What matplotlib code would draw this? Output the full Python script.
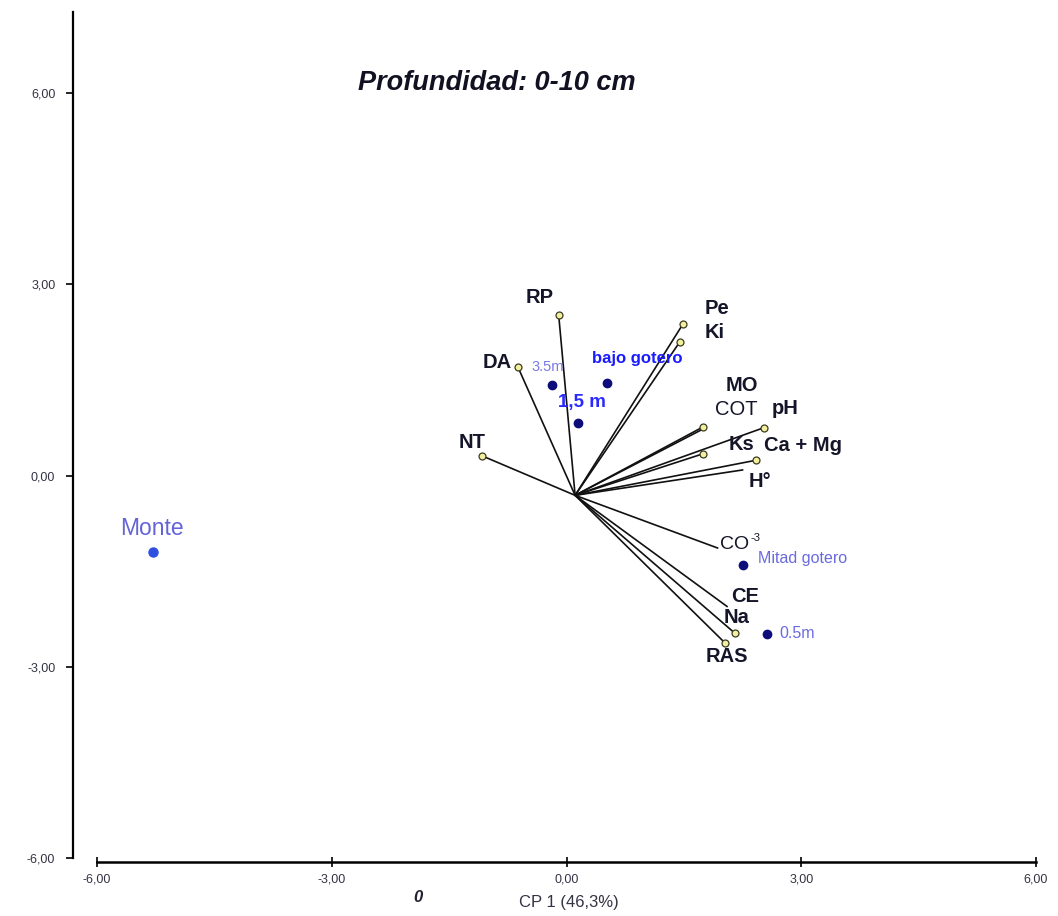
import matplotlib
matplotlib.use("Agg")
import matplotlib.pyplot as plt

plt.rcParams['font.family'] = ['Liberation Sans', 'DejaVu Sans']

# ---- data ----
origin = (0.11, -0.31)
var_names = ['RP', 'DA', 'NT', 'Pe', 'Ki', 'MO', 'COT', 'pH', 'Ks', 'Ca + Mg',
             'H°', 'CO-3', 'CE', 'Na', 'RAS']
var_x = [-0.10, -0.62, -1.08, 1.49, 1.45, 1.76, 1.74, 2.52, 1.74, 2.42,
         2.26, 1.94, 2.06, 2.15, 2.03]
var_y = [2.52, 1.70, 0.31, 2.38, 2.10, 0.74, 0.76, 0.75, 0.34, 0.24,
         0.09, -1.14, -2.06, -2.47, -2.63]
var_marker = [True, True, True, True, True, False, True, True, True, True,
              False, False, False, True, True]
var_bold = [True, True, True, True, True, True, False, True, True, True,
            True, False, True, True, True]
# label offsets in pixels (dx right, dy down)
var_dx = [-19, -21, -10, 34, 35, 38, 34, 21, 39, 47, 17, 19, 17, 2, 2]
var_dy = [-17, -5, -13, -15, -9, -43, -18, -19, -9, -15, 12, -4, -10, -16, 13]

obs_names = ['3.5m', 'bajo gotero', '1,5 m', 'Mitad gotero', '0.5m', 'Monte']
obs_x = [-0.19, 0.52, 0.15, 2.26, 2.56, -5.28]
obs_y = [1.42, 1.45, 0.82, -1.40, -2.49, -1.20]

xticks = [-6, -3, 0, 3, 6]
yticks = [-6, -3, 0, 3, 6]
tick_labels = ['-6,00', '-3,00', '0,00', '3,00', '6,00']

# ---- figure ----
W, H = 1058, 916
fig = plt.figure(figsize=(W / 100, H / 100), dpi=100)
ax = fig.add_axes([97 / W, 54 / H, 939 / W, 850 / H])
ax.set_xlim(-6, 6)
ax.set_ylim(-6.06, 7.27)

for s in ['top', 'right']:
    ax.spines[s].set_visible(False)
ax.spines['left'].set_position(('outward', 17))
ax.spines['left'].set_bounds(-6.0, 7.27)
ax.spines['left'].set_linewidth(1.6)
ax.spines['bottom'].set_linewidth(1.8)

ax.set_xticks(xticks)
ax.set_xticklabels(tick_labels)
ax.set_yticks(yticks)
ax.set_yticklabels(tick_labels)
ax.tick_params(axis='x', direction='inout', length=7, width=1.2, pad=5,
               labelsize=9, labelcolor='#333344')
ax.tick_params(axis='y', direction='out', length=5, width=1.2, pad=8,
               labelsize=9, labelcolor='#333344')

px = 0.72  # pixels -> points

# vectors
for name, x, y, mk, bold, dx, dy in zip(var_names, var_x, var_y, var_marker,
                                        var_bold, var_dx, var_dy):
    ax.plot([origin[0], x], [origin[1], y], color='#111111', lw=1.2,
            solid_capstyle='butt', zorder=2)
    if mk:
        ax.plot(x, y, 'o', ms=5, mfc='#f3efa0', mec='#3a3a20', mew=0.9,
                zorder=3)
    if name.startswith('CO-'):
        base, sup = 'CO', '-' + name.split('-')[1]
        ax.annotate(base, (x, y), xytext=((dx - 3) * px, -dy * px),
                    textcoords='offset points', ha='center', va='center',
                    fontsize=14, color='#15152a', zorder=4)
        ax.annotate(sup, (x, y), xytext=((dx + 13) * px, -(dy - 6) * px),
                    textcoords='offset points', ha='left', va='center',
                    fontsize=8, color='#15152a', zorder=4)
        continue
    ax.annotate(name, (x, y), xytext=(dx * px, -dy * px),
                textcoords='offset points', ha='center', va='center',
                fontsize=14.5, fontweight='bold' if bold else 'normal',
                color='#15152a', zorder=4)

# observations
obs_style = {
    '3.5m': dict(color='#7a7ae8', size=10.5, weight='normal', dx=-4, dy=-18, ha='center'),
    'bajo gotero': dict(color='#1a1aff', size=12, weight='bold', dx=30, dy=-25, ha='center'),
    '1,5 m': dict(color='#2a2aff', size=13.5, weight='bold', dx=4, dy=-21, ha='center'),
    'Mitad gotero': dict(color='#6a6ae0', size=11.5, weight='normal', dx=15, dy=-6, ha='left'),
    '0.5m': dict(color='#6a6ae0', size=11.5, weight='normal', dx=13, dy=-1, ha='left'),
    'Monte': dict(color='#6464d8', size=16.5, weight='normal', dx=-1, dy=-24, ha='center'),
}
for name, x, y in zip(obs_names, obs_x, obs_y):
    st = obs_style[name]
    col = '#2f4fe0' if name == 'Monte' else '#0c0c7a'
    ax.plot(x, y, 'o', ms=6.5 if name == 'Monte' else 6, color=col,
            mec=col, zorder=5)
    ax.annotate(name, (x, y), xytext=(st['dx'] * px, -st['dy'] * px),
                textcoords='offset points', ha=st['ha'], va='center',
                fontsize=st['size'], fontweight=st['weight'],
                color=st['color'], zorder=6)

# texts
fig.text(497 / W, 1 - 83 / H, 'Profundidad: 0-10 cm', ha='center',
         va='center', fontsize=19.5, fontweight='bold', style='italic',
         color='#111122')
fig.text(569 / W, 1 - 902 / H, 'CP 1 (46,3%)', ha='center', va='center',
         fontsize=12, color='#333344')
fig.text(418 / W, 1 - 897 / H, '0', ha='center', va='center',
         fontsize=12, fontweight='bold', style='italic', color='#222233')

fig.savefig('out.png', dpi=100)
